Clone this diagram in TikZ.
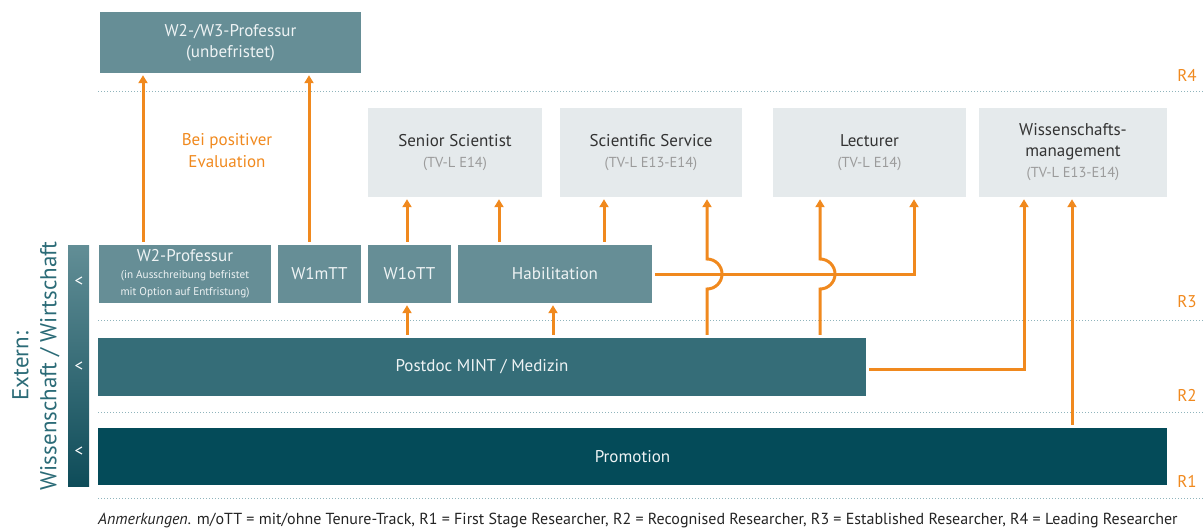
\documentclass[tikz,border=0pt]{standalone}
\usepackage{fontspec}
\setmainfont{PT Sans}
\usetikzlibrary{arrows.meta,calc}
\definecolor{orng}{HTML}{F0891E}
\definecolor{midteal}{HTML}{668E96}
\definecolor{pdteal}{HTML}{356D78}
\definecolor{dkteal}{HTML}{044B59}
\definecolor{ltgray}{HTML}{E5EAEC}
\definecolor{dotc}{HTML}{8FB4BC}
\definecolor{lefttxt}{HTML}{2B6B77}
\definecolor{titletxt}{HTML}{333333}
\definecolor{subtxt}{HTML}{9B9B9B}
\definecolor{boxtxt}{HTML}{EEF3F4}
\definecolor{bartop}{HTML}{628E96}
\definecolor{barbot}{HTML}{0E4C59}
\begin{document}
\begin{tikzpicture}[x=1pt,y=-1pt,
  sbox/.style={inner sep=0pt, align=center, text=boxtxt, font=\fontsize{17}{21}\selectfont},
  gbox/.style={fill=ltgray, inner sep=0pt, align=center, text=titletxt, font=\fontsize{17}{21}\selectfont, minimum height=89pt},
  arr/.style={draw=orng, line width=3pt, -{Triangle[width=9pt,length=8pt]}, shorten >=2pt, shorten <=3pt},
  dotl/.style={draw=dotc, line width=1pt, dash pattern=on 1pt off 2pt},
  rlab/.style={text=orng, font=\fontsize{17}{18}\selectfont},
  marker/.style={text=white, font=\fontsize{17}{17}\selectfont}]
\useasboundingbox (0,0) rectangle (1204,528);
\newcommand{\subline}[1]{{\color{subtxt}\fontsize{14.5}{19}\selectfont #1}}

% dotted level lines
\coordinate (l4a) at (98,91);  \coordinate (l4b) at (1204,91);
\coordinate (l3a) at (98,320); \coordinate (l3b) at (1204,320);
\coordinate (l2a) at (98,412); \coordinate (l2b) at (1204,412);
\coordinate (l1a) at (98,498); \coordinate (l1b) at (1204,498);
\draw[dotl] (l4a) -- (l4b);
\draw[dotl] (l3a) -- (l3b);
\draw[dotl] (l2a) -- (l2b);
\draw[dotl] (l1a) -- (l1b);

% level labels
\node[rlab] (r4) at (1187,75) {R4};
\node[rlab] (r3) at (1187,302) {R3};
\node[rlab] (r2) at (1187,395) {R2};
\node[rlab] (r1) at (1187,481) {R1};

% boxes
\node[sbox, fill=midteal, minimum width=261pt, minimum height=61pt] (w23) at (230.5,42.5) {W2-/W3-Professur\\(unbefristet)};

\node[gbox, minimum width=174pt] (senior) at (455,152.5) {Senior Scientist\\\subline{(TV-L E14)}};
\node[gbox, minimum width=182pt] (service) at (651,152.5) {Scientific Service\\\subline{(TV-L E13-E14)}};
\node[gbox, minimum width=193pt] (lect) at (869.5,152.5) {Lecturer\\\subline{(TV-L E14)}};
\node[gbox, minimum width=188pt] (wm) at (1073,152.5) {Wissenschafts-\\management\\\subline{(TV-L E13-E14)}};

\node[sbox, fill=midteal, minimum width=172pt, minimum height=58pt, font=\fontsize{17}{17}\selectfont] (w2) at (185,274) {W2-Professur\\{\fontsize{11.2}{17}\selectfont (in Ausschreibung befristet}\\{\fontsize{11.2}{15}\selectfont mit Option auf Entfristung)}};
\node[sbox, fill=midteal, minimum width=83pt, minimum height=58pt] (w1m) at (319.5,274) {W1mTT};
\node[sbox, fill=midteal, minimum width=83pt, minimum height=58pt] (w1o) at (409.5,274) {W1oTT};
\node[sbox, fill=midteal, minimum width=194pt, minimum height=58pt] (hab) at (555,274) {Habilitation};

\node[sbox, fill=pdteal, minimum width=768pt, minimum height=58pt] (postdoc) at (482,367) {Postdoc MINT / Medizin};
\node[sbox, fill=dkteal, minimum width=1069pt, minimum height=57pt] (promo) at (632.5,456.5) {Promotion};

% left bar
\node[inner sep=0pt, minimum width=21pt, minimum height=241pt, top color=bartop, bottom color=barbot] (bar) at (78.5,365.5) {};
\node[marker] (m1) at (79,282) {<};
\node[marker] (m2) at (79,367) {<};
\node[marker] (m3) at (79,452) {<};
\node[rotate=90, text=lefttxt, align=center, font=\fontsize{23}{28}\selectfont] (ext) at (36,366) {Extern:\\Wissenschaft / Wirtschaft};

% evaluation label
\node[text=orng, align=center, font=\fontsize{17}{22}\selectfont] (eval) at (227,151) {Bei positiver\\Evaluation};

% x positions
\coordinate (xa) at (143,0);
\coordinate (xb) at (309,0);
\coordinate (xc) at (407,0);
\coordinate (xd) at (499,0);
\coordinate (xe) at (604,0);
\coordinate (xf) at (553,0);
\coordinate (xg) at (707,0);
\coordinate (xh) at (820,0);
\coordinate (xi) at (914,0);
\coordinate (xj) at (1024,0);
\coordinate (xk) at (1072,0);

% arrows
\draw[arr] (xa |- w2.north) -- (xa |- w23.south);
\draw[arr] (xb |- w1m.north) -- (xb |- w23.south);
\draw[arr] (xc |- w1o.north) -- (xc |- senior.south);
\draw[arr] (xc |- postdoc.north) -- (xc |- w1o.south);
\draw[arr] (xd |- hab.north) -- (xd |- senior.south);
\draw[arr] (xe |- hab.north) -- (xe |- service.south);
\draw[arr] (xf |- postdoc.north) -- (xf |- hab.south);
\draw[arr] (hab.east) -- (xi |- hab.east) -- (xi |- lect.south);
\draw[arr] (xg |- postdoc.north) -- ([yshift=-15pt]xg |- hab.east) arc[start angle=-90, end angle=90, radius=15pt] -- (xg |- service.south);
\draw[arr] (xh |- postdoc.north) -- ([yshift=-15pt]xh |- hab.east) arc[start angle=-90, end angle=90, radius=15pt] -- (xh |- lect.south);
\draw[arr] ([yshift=-2pt]postdoc.east) -- ([yshift=-2pt]xj |- postdoc.east) -- (xj |- wm.south);
\draw[arr] (xk |- promo.north) -- (xk |- wm.south);

% footnote
\node[anchor=base west, inner sep=0pt, text=titletxt!70!black, font=\fontsize{16}{18}\selectfont] (note) at (98,524) {\textit{Anmerkungen.} m/oTT = mit/ohne Tenure-Track, R1 = First Stage Researcher, R2 = Recognised Researcher, R3 = Established Researcher, R4 = Leading Researcher};
\end{tikzpicture}
\end{document}
